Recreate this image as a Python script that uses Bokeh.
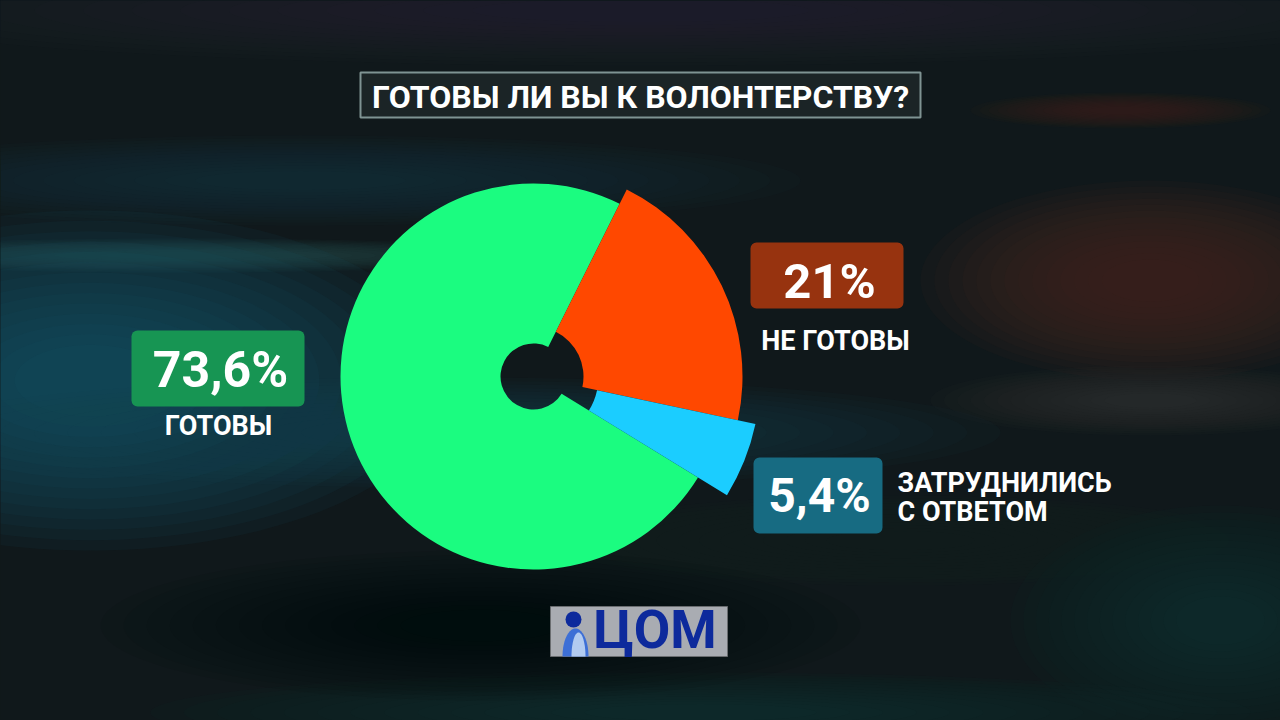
import math
from bokeh.plotting import figure
from bokeh.models import Range1d, ColumnDataSource
from bokeh.core.properties import value
from bokeh.embed import file_html
from bokeh.resources import INLINE

# ---- data ----
title = "ГОТОВЫ ЛИ ВЫ К ВОЛОНТЕРСТВУ?"
categories = ["ГОТОВЫ", "НЕ ГОТОВЫ", "ЗАТРУДНИЛИСЬ\nС ОТВЕТОМ"]
shares = [73.6, 21.0, 5.4]
share_labels = ["73,6%", "21%", "5,4%"]
slice_colors = ["#1bfc80", "#ff4800", "#1bcdff"]
box_colors = ["#179553", "#97330f", "#176b82"]
source_label = "ЦОМ"

W, H = 1280, 720

def Y(y):
    return H - y

p = figure(width=W, height=H, output_backend="svg", toolbar_location=None,
           x_range=Range1d(0, W), y_range=Range1d(0, H), min_border=0)
p.axis.visible = False
p.grid.visible = False
p.outline_line_color = None
p.background_fill_color = "#10181b"
p.border_fill_color = "#10181b"

# ---- blurred background streaks ----
streaks = [
    (640, 10, 1600, 110, "#252d30", 0.075),
    (300, 180, 1000, 90, "#1a3640", 0.075),
    (180, 255, 760, 34, "#2d4c56", 0.075),
    (90, 380, 720, 340, "#18586c", 0.09),
    (450, 432, 1100, 110, "#1b4452", 0.075),
    (1120, 110, 300, 36, "#3e2217", 0.08),
    (1150, 280, 460, 200, "#44281b", 0.1),
    (1150, 400, 440, 70, "#38393a", 0.075),
    (900, 540, 700, 90, "#1f2628", 0.075),
    (1220, 620, 420, 230, "#12333c", 0.075),
    (700, 712, 1100, 80, "#0f3039", 0.075),
    (480, 625, 760, 150, "#05090a", 0.075),
]
n = 14
for cx0, cy0, w, h, c, a in streaks:
    for i in range(n):
        f = 1.0 - i * (0.85 / n)
        p.ellipse(x=cx0, y=Y(cy0), width=w * f, height=h * f,
                  fill_color=c, fill_alpha=a, line_color=None)

# ---- pie ----
cx, cy = 533, 376
start0 = math.radians(63.5)
ang = [s / 100 * 2 * math.pi for s in shares]
# clockwise order from start0: red, blue, green
red_start, red_end = start0 - ang[1], start0
blue_start, blue_end = red_start - ang[2], red_start
green_start, green_end = blue_start - ang[0], blue_start
inner = [33, 50, 65]
outer = [193, 209, 227]
pie = ColumnDataSource(dict(
    x=[cx] * 3, y=[Y(cy)] * 3,
    start=[green_start, red_start, blue_start],
    end=[green_end, red_end, blue_end],
    inner=inner, outer=outer, color=slice_colors))
p.annular_wedge(x="x", y="y", inner_radius="inner", outer_radius="outer",
                start_angle="start", end_angle="end", fill_color="color",
                line_color=None, source=pie)

# ---- title ----
p.quad(left=360, right=920, top=Y(72), bottom=Y(117), fill_color="#1b2426",
       line_color="#7f9393", line_width=2)
p.text(x=[640], y=[Y(96)], text=[title], text_color="white",
       text_font=value("Roboto"), text_font_style="bold",
       text_font_size="32px", text_align="center", text_baseline="middle")

# ---- label boxes ----
boxes = [(131, 304, 330, 406), (750, 903, 242, 308), (753, 882, 457, 533)]
for (l, r, t, b), c in zip(boxes, box_colors):
    p.quad(left=l, right=r, top=Y(t), bottom=Y(b), fill_color=c,
           line_color=None, border_radius=6)

pct_pos = [(220, 369, 50), (829, 281, 49), (819, 495, 48)]
for (x, y, fs), t in zip(pct_pos, share_labels):
    p.text(x=[x], y=[Y(y)], text=[t], text_color="white",
           text_font=value("Roboto"), text_font_style="bold",
           text_font_size=f"{fs}px", text_align="center", text_baseline="middle")

cat_lines = categories[2].split("\n")
p.text(x=[218], y=[Y(425)], text=[categories[0]], text_color="white",
       text_font=value("Roboto"), text_font_style="bold", text_font_size="27px",
       text_align="center", text_baseline="middle")
p.text(x=[835], y=[Y(340)], text=[categories[1]], text_color="white",
       text_font=value("Roboto"), text_font_style="bold", text_font_size="27px",
       text_align="center", text_baseline="middle")
p.text(x=[897, 897], y=[Y(482), Y(511)], text=cat_lines, text_color="white",
       text_font=value("Roboto"), text_font_style="bold", text_font_size="27px",
       text_align="left", text_baseline="middle")

# ---- logo ----
p.quad(left=550, right=727, top=Y(606), bottom=Y(656), fill_color="#a9acb2",
       line_color="#6a6d70", line_width=1)
bx, by, brx, bry = 575, 656, 13, 28
ts = [math.pi * k / 40 for k in range(41)]
p.patch(x=[bx + brx * math.cos(t) for t in ts], y=[Y(by) + bry * math.sin(t) for t in ts],
        fill_color="#3d6fd6", line_color=None)
p.patch(x=[bx + 3 + 7 * math.cos(t) for t in ts], y=[Y(by) + 24 * math.sin(t) for t in ts],
        fill_color="#c7dcf5", fill_alpha=0.85, line_color=None)
p.circle(x=573, y=Y(619), radius=8, fill_color="#0d2a9c", line_color=None)
p.text(x=[593], y=[Y(629)], text=[source_label], text_color="#0d2a9c",
       text_font=value("Roboto"), text_font_style="bold", text_font_size="53px",
       text_align="left", text_baseline="middle")

html = file_html(p, INLINE, title="chart")
html = html.replace("</head>", "<style>html,body{background:#10181b;}</style></head>", 1)
open("out.html", "w").write(html)
